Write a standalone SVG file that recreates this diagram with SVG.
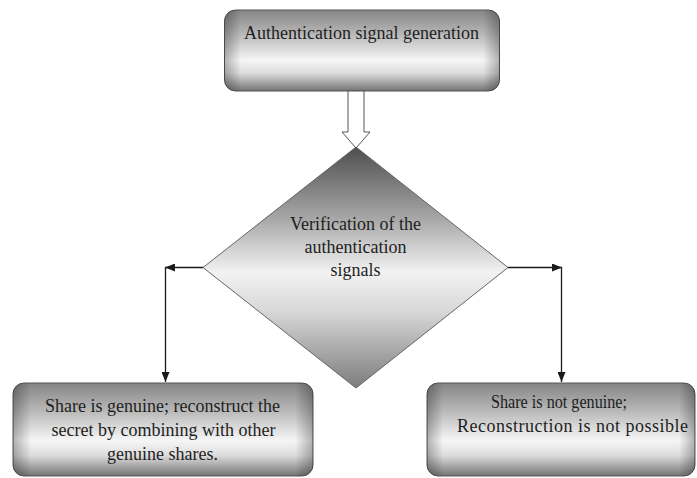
<svg xmlns="http://www.w3.org/2000/svg" width="697" height="478" viewBox="0 0 697 478">
  <style>
    .lbl { font-family: "Liberation Serif", "Times New Roman", serif; font-size: 18px; fill: #1e1e1e; }
    .box { stroke: #555; stroke-width: 1; }
    .conn { fill: none; stroke: #1a1a1a; stroke-width: 1.3; }
  </style>
  <defs>
    <!-- vertical shading for the rounded process boxes -->
    <linearGradient id="boxShade" x1="0" y1="0" x2="0" y2="1">
      <stop offset="0" stop-color="#858585"/>
      <stop offset="0.3" stop-color="#b8b8b8"/>
      <stop offset="0.62" stop-color="#f6f6f6"/>
      <stop offset="0.78" stop-color="#dcdcdc"/>
      <stop offset="1" stop-color="#747474"/>
    </linearGradient>
    <!-- darkening toward the left and right ends of each box -->
    <linearGradient id="edgeShade" x1="0" y1="0" x2="1" y2="0">
      <stop offset="0" stop-color="#000" stop-opacity="0.28"/>
      <stop offset="0.06" stop-color="#000" stop-opacity="0"/>
      <stop offset="0.94" stop-color="#000" stop-opacity="0"/>
      <stop offset="1" stop-color="#000" stop-opacity="0.28"/>
    </linearGradient>
    <!-- decision diamond shading -->
    <linearGradient id="diaShade" x1="0" y1="0" x2="0" y2="1">
      <stop offset="0" stop-color="#4e4e4e"/>
      <stop offset="0.3" stop-color="#a8a8a8"/>
      <stop offset="0.52" stop-color="#f2f2f2"/>
      <stop offset="0.68" stop-color="#d8d8d8"/>
      <stop offset="1" stop-color="#7c7c7c"/>
    </linearGradient>
    <marker id="arrow" viewBox="0 0 10 8" refX="10" refY="4" markerWidth="10" markerHeight="8" markerUnits="userSpaceOnUse" orient="auto">
      <path d="M0,0 L10,4 L0,8 Z" fill="#1a1a1a"/>
    </marker>
  </defs>

  <!-- decision -->
  <g id="verify">
    <polygon points="356,147 508,267.5 356,388 203,267.5" fill="url(#diaShade)" stroke="#666" stroke-width="1"/>
    <text class="lbl" x="355.5" y="230" text-anchor="middle">Verification of the</text>
    <text class="lbl" x="355.5" y="253" text-anchor="middle">authentication</text>
    <text class="lbl" x="355.5" y="276" text-anchor="middle">signals</text>
  </g>

  <!-- start step -->
  <g id="generate">
    <rect class="box" x="224.5" y="10" width="275" height="81" rx="11" fill="url(#boxShade)"/>
    <rect x="224.5" y="10" width="275" height="81" rx="11" fill="url(#edgeShade)"/>
    <text class="lbl" x="361.5" y="39" text-anchor="middle">Authentication signal generation</text>
  </g>

  <!-- outcomes -->
  <g id="genuine">
    <rect class="box" x="13" y="383" width="300" height="93" rx="11" fill="url(#boxShade)"/>
    <rect x="13" y="383" width="300" height="93" rx="11" fill="url(#edgeShade)"/>
    <text class="lbl" x="162.5" y="412" text-anchor="middle">Share is genuine; reconstruct the</text>
    <text class="lbl" x="163.5" y="436" text-anchor="middle">secret by combining with other</text>
    <text class="lbl" x="162.5" y="460" text-anchor="middle">genuine shares.</text>
  </g>

  <g id="not-genuine">
    <rect class="box" x="427" y="383" width="268" height="93" rx="11" fill="url(#boxShade)"/>
    <rect x="427" y="383" width="268" height="93" rx="11" fill="url(#edgeShade)"/>
    <text class="lbl" x="491" y="408" textLength="136" lengthAdjust="spacingAndGlyphs">Share is not genuine;</text>
    <text class="lbl" x="457" y="432" textLength="231" lengthAdjust="spacing">Reconstruction is not possible</text>
  </g>

  <!-- connectors -->
  <g id="connectors">
    <polygon points="348,91 348,132 342,132 356,148 370,132 364,132 364,91" fill="#fff" stroke="#555" stroke-width="1"/>
    <path class="conn" d="M203,267.5 L165,267.5" marker-end="url(#arrow)"/>
    <path class="conn" d="M165.5,267 L165.5,382" marker-end="url(#arrow)"/>
    <path class="conn" d="M508,267.5 L562,267.5" marker-end="url(#arrow)"/>
    <path class="conn" d="M561.5,267 L561.5,382" marker-end="url(#arrow)"/>
  </g>
</svg>
